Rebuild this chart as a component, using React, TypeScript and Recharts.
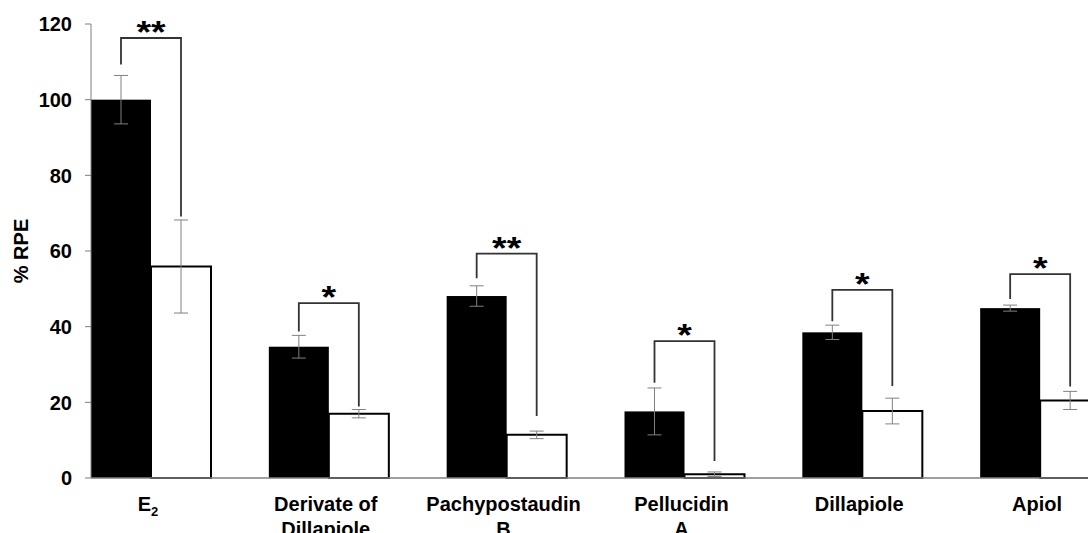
import React from 'react';
import { BarChart, Bar, XAxis, YAxis, ErrorBar } from 'recharts';

// values (% RPE)
const categories = ['E_2', 'Derivate of\nDillapiole', 'Pachypostaudin\nB', 'Pellucidin\nA', 'Dillapiole', 'Apiol'];
const blackValues = [100, 34.7, 48.1, 17.6, 38.5, 44.9];
const blackErrors = [6.4, 3.0, 2.7, 6.2, 1.9, 0.8];
const whiteValues = [55.9, 17.0, 11.4, 1.0, 17.7, 20.5];
const whiteErrors = [12.3, 1.1, 1.0, 0.6, 3.4, 2.4];

// significance brackets, in data units
const bracketTops = [116.3, 46.2, 59.3, 36.2, 49.7, 53.9];
const bracketLeftEnds = [109.3, 38.7, 52.8, 25.2, 41.4, 47.3];
const bracketRightEnds = [69.1, 18.9, 16.4, 4.5, 24.3, 24.2];
const significance = ['**', '*', '**', '*', '*', '*'];

const yTicks = [0, 20, 40, 60, 80, 100, 120];

const data = categories.map((name, i) => ({
  name,
  black: blackValues[i],
  blackErr: blackErrors[i],
  white: whiteValues[i],
  whiteErr: whiteErrors[i],
  bracketTop: bracketTops[i],
  leftEnd: bracketLeftEnds[i],
  rightEnd: bracketRightEnds[i],
  stars: significance[i],
}));

const FONT = '"Liberation Sans", Arial, sans-serif';

const XTick = (props: any) => {
  const { x, y, payload } = props;
  const lines = String(payload.value).split('\n');
  return (
    <g transform={`translate(${x - 3},${y})`}>
      {lines.map((line, i) => {
        const [main, sub] = line.split('_');
        return (
          <text key={i} x={0} y={33 + i * 25} textAnchor="middle" fontFamily={FONT} fontWeight="bold" fontSize={20} fill="#000">
            {main}
            {sub && (
              <tspan fontSize={13} dy={5}>
                {sub}
              </tspan>
            )}
          </text>
        );
      })}
    </g>
  );
};

const YTick = (props: any) => {
  const { x, y, payload } = props;
  return (
    <text x={x} y={y} dy="0.36em" textAnchor="end" fontFamily={FONT} fontWeight="bold" fontSize={20} fill="#000">
      {payload.value}
    </text>
  );
};

const YLabel = (props: any) => {
  const vb = props.viewBox || { x: 31, y: 24, width: 60, height: 454 };
  const cx = vb.x - 10.5;
  const cy = vb.y + vb.height / 2;
  return (
    <text
      transform={`translate(${cx},${cy}) rotate(-90)`}
      textAnchor="middle"
      dominantBaseline="central"
      fontFamily={FONT}
      fontWeight="bold"
      fontSize={20}
      fill="#000"
    >
      % RPE
    </text>
  );
};

// black bar plus the significance bracket over its pair
const BlackBar = (props: any) => {
  const { x, y, width, height, payload } = props;
  const base = y + height;
  const ppu = height / payload.black;
  const yOf = (v: number) => base - v * ppu;
  const cx1 = x + width / 2;
  const cx2 = x + width * 1.5;
  const top = yOf(payload.bracketTop);
  return (
    <g>
      <rect x={x} y={y} width={width} height={height} fill="#000" />
      <path
        d={`M${cx1},${yOf(payload.leftEnd)}V${top}H${cx2}V${yOf(payload.rightEnd)}`}
        fill="none"
        stroke="#333"
        strokeWidth={1.8}
      />
      <text
        transform={`translate(${(cx1 + cx2) / 2},${top + 5}) scale(1.17,1)`}
        textAnchor="middle"
        fontFamily={FONT}
        fontWeight="bold"
        fontSize={32}
        fill="#000"
      >
        {payload.stars}
      </text>
    </g>
  );
};

export default function App() {
  return (
    <div style={{ position: 'absolute', left: 0, top: 0, width: 1088, height: 533, overflow: 'hidden', background: '#fff' }}>
      <BarChart
        width={1088}
        height={533}
        data={data}
        margin={{ top: 24, right: 0, bottom: 0, left: 31 }}
        barGap={0}
      >
        <XAxis
          dataKey="name"
          height={55}
          padding={{ left: -29, right: -41 }}
          tickLine={false}
          tickSize={0}
          tickMargin={0}
          axisLine={{ stroke: '#7f7f7f', strokeWidth: 1.5 }}
          tick={<XTick />}
          interval={0}
        />
        <YAxis
          width={60}
          domain={[0, 120]}
          ticks={yTicks}
          tickSize={6}
          tickMargin={13}
          tickLine={{ stroke: '#7f7f7f' }}
          axisLine={{ stroke: '#7f7f7f' }}
          tick={<YTick />}
          label={(p: any) => <YLabel {...p} />}
        />
        <Bar dataKey="black" barSize={60} fill="#000" shape={<BlackBar />} isAnimationActive={false}>
          <ErrorBar dataKey="blackErr" width={7} stroke="#808080" strokeWidth={1} isAnimationActive={false} />
        </Bar>
        <Bar dataKey="white" barSize={60} fill="#fff" stroke="#000" strokeWidth={2} isAnimationActive={false}>
          <ErrorBar dataKey="whiteErr" width={7} stroke="#808080" strokeWidth={1} isAnimationActive={false} />
        </Bar>
      </BarChart>
    </div>
  );
}
